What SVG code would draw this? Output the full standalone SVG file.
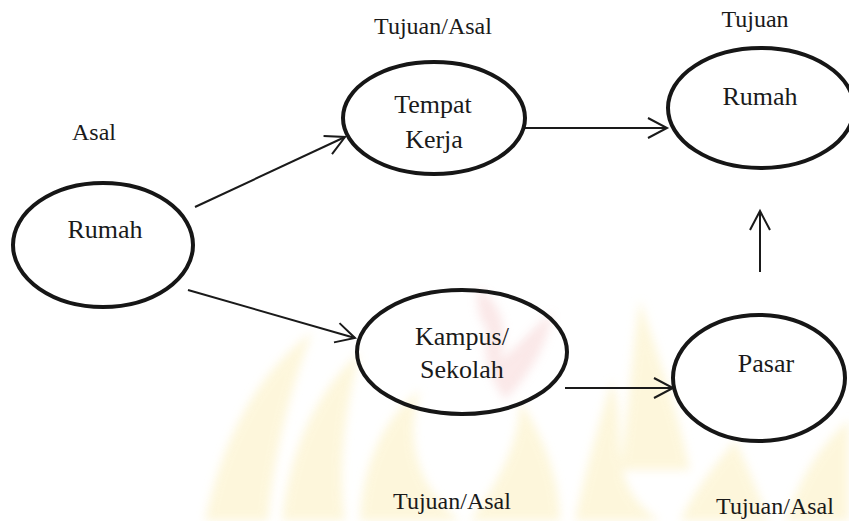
<svg xmlns="http://www.w3.org/2000/svg" width="849" height="521" viewBox="0 0 849 521">
<defs>
<style>
.node ellipse{fill:none;stroke:#161616;stroke-width:4}
.lbl{font-family:"Liberation Serif","Times New Roman",serif;font-size:24px;fill:#1a1a1a;text-anchor:middle}
.txt{font-family:"Liberation Serif","Times New Roman",serif;font-size:26px;fill:#1a1a1a;text-anchor:middle}
.conn line{stroke:#1a1a1a;stroke-width:2;fill:none}
.wm{fill:#fcf0bf}
</style>
<filter id="soft" x="-10%" y="-10%" width="120%" height="120%">
<feGaussianBlur stdDeviation="5"/>
</filter>
<marker id="arr" markerUnits="userSpaceOnUse" markerWidth="26" markerHeight="26" viewBox="-23 -13 26 26" refX="0" refY="0" orient="auto">
<path d="M-19,-10 L0,0 L-19,10" fill="none" stroke="#1a1a1a" stroke-width="2"/>
</marker>
</defs>
<rect width="849" height="521" fill="#ffffff"/>
<g id="watermark" opacity="0.55" filter="url(#soft)">
<path class="wm" d="M205,521 C222,440 255,375 312,332 C290,392 274,452 268,521 Z"/>
<path class="wm" d="M282,521 C290,445 318,390 360,352 C345,410 338,465 345,521 Z"/>
<path class="wm" d="M360,521 C362,470 380,420 420,390 C408,430 410,480 460,521 Z"/>
<path class="wm" d="M470,521 C500,480 520,440 520,400 C545,440 560,480 560,521 Z"/>
<path class="wm" d="M575,521 C585,470 600,420 612,380 C630,430 600,480 660,521 Z"/>
<path class="wm" d="M620,470 C630,400 632,350 640,300 C660,360 680,420 690,470 Z"/>
<path class="wm" d="M680,521 C700,480 720,460 735,440 C750,470 760,500 770,521 Z"/>
<path class="wm" d="M785,521 C800,480 815,450 849,420 L849,521 Z"/>
<path d="M478,288 C500,300 510,330 500,360 C520,345 535,325 552,312 C548,345 530,375 505,400 C490,380 480,350 488,330 C478,320 475,300 478,288 Z" fill="#f3c4c4" opacity="0.7"/>
</g>
<g id="labels">
<text class="lbl" x="433" y="34">Tujuan/Asal</text>
<text class="lbl" x="755" y="27">Tujuan</text>
<text class="lbl" x="94" y="140">Asal</text>
<text class="lbl" x="452" y="509">Tujuan/Asal</text>
<text class="lbl" x="775" y="514">Tujuan/Asal</text>
</g>
<g id="connectors" class="conn">
<line x1="195" y1="207" x2="345" y2="137" marker-end="url(#arr)"/>
<line x1="188" y1="290" x2="355" y2="338" marker-end="url(#arr)"/>
<line x1="525" y1="128" x2="667" y2="128" marker-end="url(#arr)"/>
<line x1="565" y1="388" x2="673" y2="388" marker-end="url(#arr)"/>
<line x1="760" y1="272" x2="760" y2="211" marker-end="url(#arr)"/>
</g>
<g id="rumah-asal" class="node">
<ellipse cx="103" cy="245" rx="90" ry="62"/>
<text class="txt" x="105" y="238">Rumah</text>
</g>
<g id="tempat-kerja" class="node">
<ellipse cx="434" cy="118" rx="91" ry="56"/>
<text class="txt" x="433" y="113">Tempat</text>
<text class="txt" x="434" y="148">Kerja</text>
</g>
<g id="rumah-tujuan" class="node">
<ellipse cx="761" cy="108" rx="93" ry="60"/>
<text class="txt" x="760" y="105">Rumah</text>
</g>
<g id="kampus-sekolah" class="node">
<ellipse cx="462" cy="352" rx="105" ry="62"/>
<text class="txt" x="462" y="345">Kampus/</text>
<text class="txt" x="462" y="378">Sekolah</text>
</g>
<g id="pasar" class="node">
<ellipse cx="759" cy="378" rx="86" ry="63"/>
<text class="txt" x="766" y="372">Pasar</text>
</g>
</svg>
